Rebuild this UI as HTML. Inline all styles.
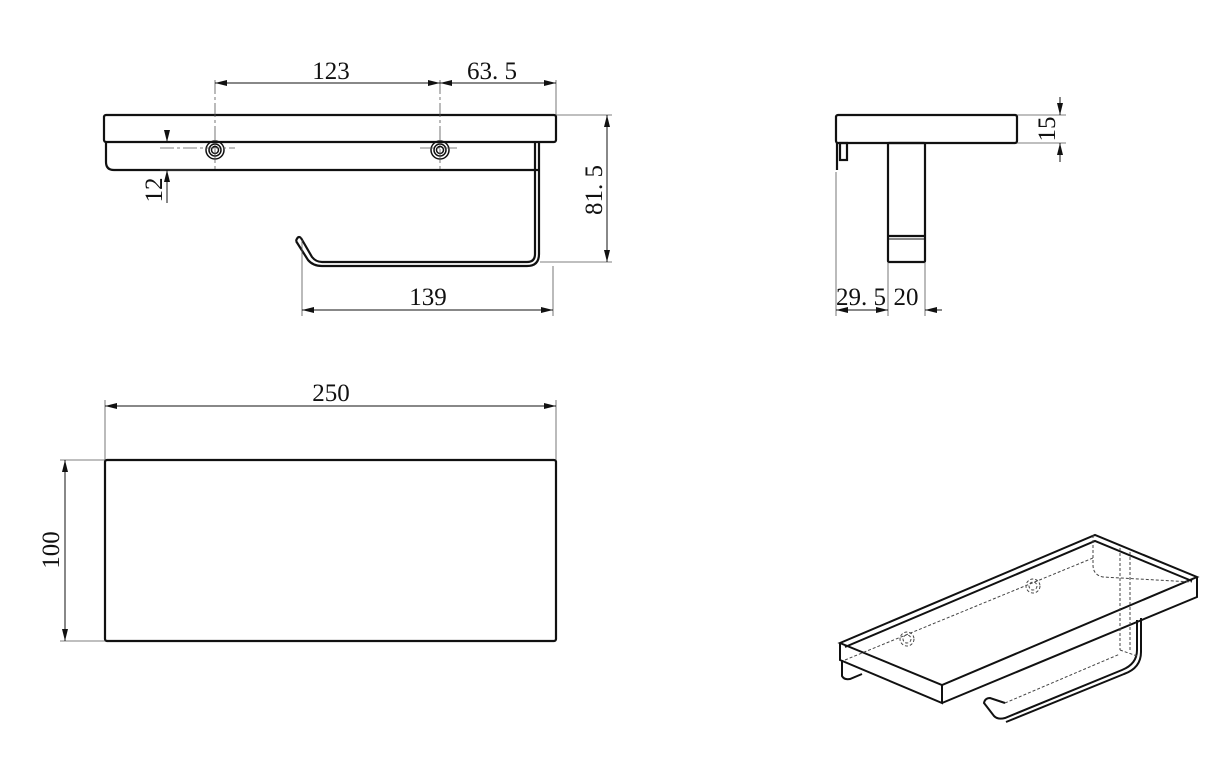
<!DOCTYPE html>
<html><head><meta charset="utf-8"><style>
html,body{margin:0;padding:0;background:#fff;}
svg{display:block}
text{font-family:"Liberation Serif",serif;font-size:25px;fill:#111}
</style></head><body>
<svg width="1222" height="762" viewBox="0 0 1222 762" xmlns="http://www.w3.org/2000/svg">
<defs>
<marker id="a" viewBox="0 0 12 6" refX="12" refY="3" markerWidth="12" markerHeight="6" orient="auto-start-reverse" markerUnits="userSpaceOnUse"><path d="M0,0 L12,3 L0,6z" fill="#111"/></marker>
</defs>
<g fill="none" stroke="#111">
<!-- FRONT VIEW -->
<g stroke-width="2.2">
<rect x="104" y="115" width="452" height="27" rx="2"/>
<path d="M106,142 V162 Q106,170 114,170 H535"/>
<path d="M535,142 V254 Q535,262 527,262 H322 Q316,262 312,257 L301,238"/>
<path d="M539,142 V254 Q539,266 527,266 H322 Q313,266 308,260 L296,241"/>
<path d="M301,238 Q298,235 296,241"/>
<line x1="535" y1="170" x2="539" y2="170"/>
</g>
<g stroke-width="1.5">
<circle cx="215" cy="150" r="9"/><circle cx="215" cy="150" r="6"/><circle cx="215" cy="150" r="3.5"/>
<circle cx="440" cy="150" r="9"/><circle cx="440" cy="150" r="6"/><circle cx="440" cy="150" r="3.5"/>
</g>
<g stroke-width="0.8" stroke="#555">
<line x1="215" y1="80" x2="215" y2="170" stroke-dasharray="14,3,3,3"/>
<line x1="440" y1="80" x2="440" y2="170" stroke-dasharray="14,3,3,3"/>
<line x1="160" y1="148" x2="235" y2="148" stroke-dasharray="14,3,3,3"/>
<line x1="420" y1="148" x2="460" y2="148" stroke-dasharray="14,3,3,3"/>
<line x1="556" y1="80" x2="556" y2="115"/>
<line x1="556" y1="115" x2="612" y2="115"/>
<line x1="540" y1="262" x2="612" y2="262"/>
<line x1="302" y1="240" x2="302" y2="316"/>
<line x1="553" y1="266" x2="553" y2="316"/>
<line x1="160" y1="170" x2="200" y2="170"/>
</g>
<g stroke-width="1">
<line x1="215" y1="83" x2="440" y2="83" marker-start="url(#a)" marker-end="url(#a)"/>
<line x1="440" y1="83" x2="556" y2="83" marker-start="url(#a)" marker-end="url(#a)"/>
<line x1="607" y1="115" x2="607" y2="262" marker-start="url(#a)" marker-end="url(#a)"/>
<line x1="302" y1="310" x2="553" y2="310" marker-start="url(#a)" marker-end="url(#a)"/>
<line x1="167" y1="130" x2="167" y2="142" marker-end="url(#a)"/>
<line x1="167" y1="203" x2="167" y2="170" marker-end="url(#a)"/>
</g>
<!-- SIDE VIEW -->
<g stroke-width="2.2">
<rect x="836" y="115" width="181" height="28" rx="2"/>
<line x1="837" y1="143" x2="837" y2="170"/>
<rect x="840" y="143" width="7" height="17"/>
<rect x="888" y="143" width="37" height="119" rx="1"/>
<line x1="888" y1="236" x2="925" y2="236"/>
<line x1="888" y1="239" x2="925" y2="239" stroke-width="1"/>
</g>
<g stroke-width="0.8" stroke="#555">
<line x1="1017" y1="115" x2="1066" y2="115"/>
<line x1="1017" y1="143" x2="1066" y2="143"/>
<line x1="836" y1="172" x2="836" y2="316"/>
<line x1="888" y1="262" x2="888" y2="316"/>
<line x1="925" y1="262" x2="925" y2="316"/>
</g>
<g stroke-width="1">
<line x1="1060" y1="97" x2="1060" y2="115" marker-end="url(#a)"/>
<line x1="1060" y1="162" x2="1060" y2="143" marker-end="url(#a)"/>
<line x1="836" y1="310" x2="888" y2="310" marker-start="url(#a)" marker-end="url(#a)"/>
<line x1="942" y1="310" x2="925" y2="310" marker-end="url(#a)"/>
</g>
<!-- PLAN VIEW -->
<rect x="105" y="460" width="451" height="181" rx="2" stroke-width="2.2"/>
<g stroke-width="0.8" stroke="#555">
<line x1="105" y1="400" x2="105" y2="460"/>
<line x1="556" y1="400" x2="556" y2="460"/>
<line x1="60" y1="460" x2="105" y2="460"/>
<line x1="60" y1="641" x2="105" y2="641"/>
</g>
<g stroke-width="1">
<line x1="105" y1="406" x2="556" y2="406" marker-start="url(#a)" marker-end="url(#a)"/>
<line x1="65" y1="460" x2="65" y2="641" marker-start="url(#a)" marker-end="url(#a)"/>
</g>
<!-- ISOMETRIC -->
<g stroke-width="2">
<path d="M840,643 L1095,535 L1197,577 L942,685 Z"/>
<path d="M840,643 V660 L942,703 V685"/>
<path d="M942,703 L1197,597 V577"/>
<path d="M845,647 L1095,541 L1192,581"/>
<path d="M842,660 V676 Q844,680 850,679 L862,674"/>
<path d="M1137,620 V650 Q1137,664 1122,670 L1005,718 Q998,720 994,716 L984,703 Q985,698 990,698 L1005,703"/>
<path d="M1141,618 V652 Q1141,668 1124,674 L1006,722"/>
</g>
<g stroke-width="1" stroke-dasharray="3,2" stroke="#444">
<line x1="845" y1="660" x2="1093" y2="558"/>
<path d="M1093,535 V565 Q1093,575 1103,577 L1192,582"/>
<line x1="1120" y1="548" x2="1120" y2="650"/>
<line x1="1130" y1="552" x2="1130" y2="650"/>
<line x1="1120" y1="650" x2="1137" y2="656"/>
<line x1="1005" y1="703" x2="1120" y2="654"/>
<circle cx="907" cy="639" r="7"/><circle cx="907" cy="639" r="4"/>
<circle cx="1033" cy="586" r="7"/><circle cx="1033" cy="586" r="4"/>
</g>
</g>
<!-- LABELS -->
<text x="331" y="79" text-anchor="middle">123</text>
<text x="492" y="79" text-anchor="middle">63. 5</text>
<text x="428" y="305" text-anchor="middle">139</text>
<text transform="translate(602,190) rotate(-90)" text-anchor="middle">81. 5</text>
<text transform="translate(162,190) rotate(-90)" text-anchor="middle">12</text>
<text transform="translate(1055,129) rotate(-90)" text-anchor="middle">15</text>
<text x="861" y="305" text-anchor="middle">29. 5</text>
<text x="906" y="305" text-anchor="middle">20</text>
<text x="331" y="401" text-anchor="middle">250</text>
<text transform="translate(59,550) rotate(-90)" text-anchor="middle">100</text>
</svg>
</body></html>
